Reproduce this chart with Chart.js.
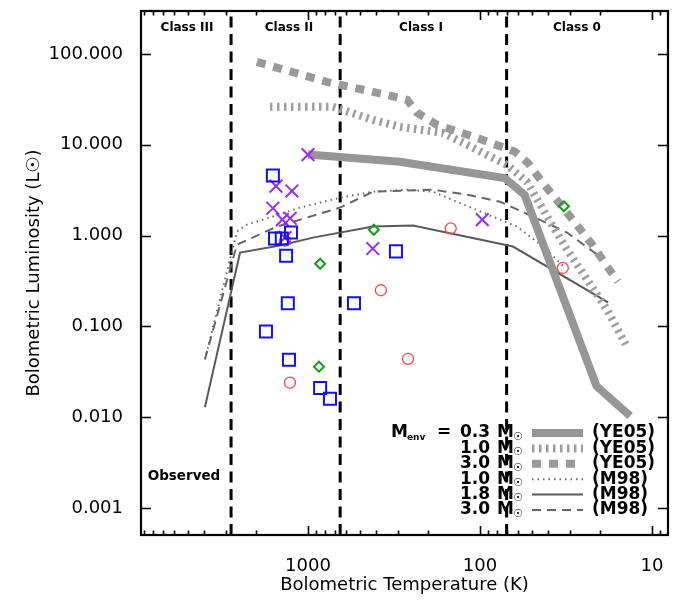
<!DOCTYPE html>
<html>
<head>
<meta charset="utf-8">
<script src="https://cdn.jsdelivr.net/npm/chart.js@4.4.0/dist/chart.umd.min.js"></script>
<style>
  html, body { margin: 0; padding: 0; background: #fff; }
</style>
</head>
<body>
<canvas id="chart" width="680" height="604"></canvas>
<script>
// observed sources: [Tbol (K), Lbol (Lsun)]
const blueSquares = [[1600,4.6],[1555,0.93],[1420,0.93],[1255,1.08],[1340,0.60],[1310,0.18],[1755,0.088],[1290,0.043],[850,0.021],[745,0.016],[540,0.18],[308,0.67]]
const purpleCrosses = [[1000,7.8],[1535,3.5],[1240,3.1],[1600,2.0],[1410,1.5],[1270,1.55],[1360,0.95],[420,0.72],[97,1.5]]
const greenDiamonds = [[414,1.16],[850,0.49],[863,0.036],[32.5,2.1]]
const redCircles = [[1360,0.88],[377,0.25],[262,0.044],[1273,0.024],[148,1.2],[33,0.44]]

// model tracks
const ye05_03 = [[1000,7.8],[292,6.5],[72,4.3],[55,2.8],[21,0.022],[13.4,0.0103]]
const ye05_10 = [[1663,26.2],[716,26.2],[419,18.8],[292,15.8],[164,13.5],[119,10],[69.7,6.0],[53.3,3.9],[40.7,1.62],[31.2,0.70],[23.9,0.33],[18.3,0.154],[14.0,0.060]]
const ye05_30 = [[1982,81.7],[776,49.2],[348,35.4],[265,31.2],[232,22.5],[178,16.6],[104,11.9],[62.6,8.4],[52.6,6.3],[43.6,3.9],[31.2,1.79],[22.3,0.80],[15.8,0.31]]
const m98_10 = [[3975,0.0434],[2588,1.106],[2264,1.32],[1598,1.62],[1113,2.03],[652,2.61],[419,3.04],[266,3.2],[188,3.04],[96,1.79],[60.9,1.256],[43,0.757],[32.1,0.445]]
const m98_18 = [[3975,0.0129],[2483,0.65],[1455,0.777],[935,0.95],[419,1.256],[245,1.29],[64.3,0.757],[18,0.184]]
const m98_30 = [[3975,0.0434],[2588,0.796],[1514,1.256],[652,2.03],[419,3.04],[188,3.2],[119,2.82],[76.5,2.36],[49.2,1.62],[31.2,1.08],[20.1,0.588]]

// class boundaries and labels
const classBounds = [2800, 650, 70]
const classNames = ['Class III', 'Class II', 'Class I', 'Class 0']
const classLabelT = [5050, 1290, 220, 27.3]

// axis ticks
const xMajorTicks = [10, 100, 1000]
const yMajorTicks = [0.001, 0.01, 0.1, 1, 10, 100]
const xMin = 8.07, xMax = 9350
const yMin = 0.000505, yMax = 297

const FONT = '"DejaVu Sans", "Liberation Sans", sans-serif'

const pts = arr => arr.map(([x, y]) => ({x, y}))

// minor ticks 2..9 in every decade that falls inside the axis
const xTicks = []
for (let p = 0; p <= 3; p++) {
    for (let m = 1; m <= 9; m++) {
        const v = m * Math.pow(10, p)
        if (v >= xMin && v <= xMax) xTicks.push(v)
    }
}

function markers(data, style, color, radius, width) {
    return {
        data: pts(data), pointStyle: style, pointRadius: radius, pointHoverRadius: radius,
        borderColor: color, backgroundColor: 'rgba(0,0,0,0)', borderWidth: width,
        showLine: false, order: 0
    }
}

function track(data, color, width, dash, mass, ref) {
    return {
        data: pts(data), showLine: true, pointRadius: 0, borderColor: color,
        borderWidth: width, borderDash: dash, borderCapStyle: 'butt', borderJoinStyle: 'miter',
        tension: 0, fill: false, order: 1, legendMass: mass, legendRef: ref
    }
}

const datasets = [
    markers(blueSquares, 'rect', '#1010ff', 8.5, 2),
    markers(purpleCrosses, 'crossRot', '#9b2cf0', 9, 2),
    markers(greenDiamonds, 'rectRot', '#14a014', 5, 2),
    markers(redCircles, 'circle', '#ff4444', 5.5, 1.3),
    track(ye05_03, '#969696', 8, [], '0.3', 'YE05'),
    track(ye05_10, '#9e9e9e', 8, [2.5, 4.5], '1.0', 'YE05'),
    track(ye05_30, '#999999', 8, [9, 8], '3.0', 'YE05'),
    track(m98_10, '#6a6a6a', 2, [1.5, 4], '1.0', 'M98'),
    track(m98_18, '#5a5a5a', 2, [], '1.8', 'M98'),
    track(m98_30, '#666666', 2, [9, 6], '3.0', 'M98'),
]
classBounds.forEach(t => datasets.push({
    data: [{x: t, y: yMin}, {x: t, y: yMax}], showLine: true, pointRadius: 0,
    borderColor: '#000', borderWidth: 3, borderDash: [11, 6.5], borderCapStyle: 'butt', order: 2
}))

const decor = {
    id: 'decor',
    afterDraw(chart) {
        const {ctx, chartArea: a, scales} = chart
        const xs = scales.x, ys = scales.y
        ctx.save()
        // ticks pointing inwards on all four sides
        ctx.strokeStyle = '#000'
        ctx.lineWidth = 1.6
        ctx.beginPath()
        xTicks.forEach(v => {
            const px = Math.round(xs.getPixelForValue(v)) + 0.5
            const len = xMajorTicks.includes(v) ? 9 : 4.5
            ctx.moveTo(px, a.bottom); ctx.lineTo(px, a.bottom - len)
            ctx.moveTo(px, a.top); ctx.lineTo(px, a.top + len)
        })
        yMajorTicks.forEach(v => {
            const py = Math.round(ys.getPixelForValue(v)) + 0.5
            ctx.moveTo(a.left, py); ctx.lineTo(a.left + 10, py)
            ctx.moveTo(a.right, py); ctx.lineTo(a.right - 10, py)
        })
        ctx.stroke()
        // frame
        ctx.lineWidth = 2.2
        ctx.strokeRect(a.left, a.top, a.right - a.left, a.bottom - a.top)

        // class labels
        ctx.fillStyle = '#000'
        ctx.textAlign = 'center'
        ctx.textBaseline = 'middle'
        ctx.font = 'bold 12px ' + FONT
        classNames.forEach((n, i) => ctx.fillText(n, xs.getPixelForValue(classLabelT[i]), a.top + 17))
        ctx.font = 'bold 13.5px ' + FONT
        ctx.fillText('Observed', xs.getPixelForValue(5260), ys.getPixelForValue(0.00225))

        // legend
        const rows = chart.data.datasets.filter(d => d.legendMass)
        const y0 = 433, step = 15.4
        ctx.textAlign = 'left'
        ctx.font = 'bold 17px ' + FONT
        ctx.fillText('M', 391, y0)
        ctx.fillText('=', 437, y0)
        ctx.font = 'bold 9px ' + FONT
        ctx.fillText('env', 407, y0 + 5)
        rows.forEach((d, i) => {
            const y = y0 + i * step
            ctx.font = 'bold 17px ' + FONT
            ctx.textAlign = 'right'
            ctx.fillText(d.legendMass, 490, y)
            ctx.textAlign = 'left'
            ctx.fillText('M', 497, y)
            ctx.fillText('(' + d.legendRef + ')', 592, y)
            ctx.font = 'bold 11px ' + FONT
            ctx.fillText('\u2609', 513, y + 4)
            ctx.save()
            ctx.strokeStyle = d.borderColor
            ctx.lineWidth = d.borderWidth
            ctx.setLineDash(d.borderDash)
            ctx.beginPath()
            ctx.moveTo(532, y); ctx.lineTo(583, y)
            ctx.stroke()
            ctx.restore()
        })
        ctx.restore()
    }
}

new Chart(document.getElementById('chart'), {
    type: 'scatter',
    data: {datasets},
    options: {
        responsive: false,
        animation: false,
        devicePixelRatio: 1,
        layout: {padding: {top: 10, right: 12, bottom: 0, left: 0}},
        plugins: {legend: {display: false}, tooltip: {enabled: false}},
        scales: {
            x: {
                type: 'logarithmic', reverse: true, min: xMin, max: xMax,
                afterBuildTicks: s => { s.ticks = xTicks.map(v => ({value: v})) },
                afterFit: s => { s.height = 69; s.paddingLeft = 0; s.paddingRight = 0 },
                grid: {display: false}, border: {display: false},
                ticks: {
                    autoSkip: false, maxRotation: 0, padding: 13, color: '#000',
                    font: {family: FONT, size: 18},
                    callback: v => xMajorTicks.includes(v) ? String(v) : ''
                },
                title: {display: true, text: 'Bolometric Temperature (K)', color: '#000',
                        font: {family: FONT, size: 18}, padding: {top: 0, bottom: 8}}
            },
            y: {
                type: 'logarithmic', min: yMin, max: yMax,
                afterBuildTicks: s => { s.ticks = yMajorTicks.map(v => ({value: v})) },
                afterFit: s => { s.width = 141; s.paddingTop = 0; s.paddingBottom = 0 },
                grid: {display: false}, border: {display: false},
                ticks: {
                    padding: 10, color: '#000', font: {family: FONT, size: 18},
                    callback: v => Number(v).toFixed(3)
                },
                title: {display: true, text: 'Bolometric Luminosity (L\u2609)', color: '#000',
                        font: {family: FONT, size: 18}, padding: {top: 24, bottom: 0}}
            }
        }
    },
    plugins: [decor]
})
</script>
</body>
</html>
